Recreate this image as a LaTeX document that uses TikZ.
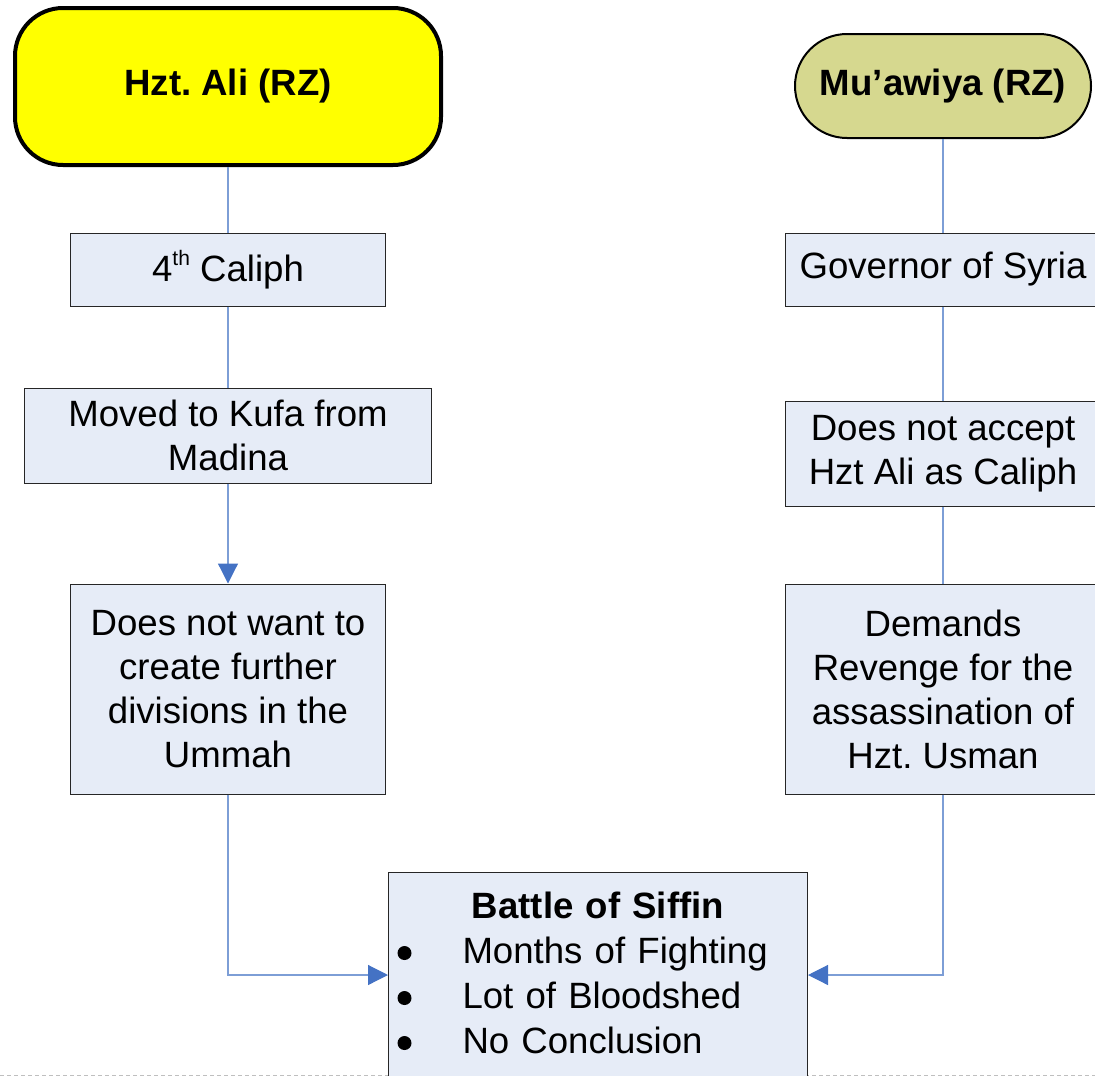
\documentclass[tikz,border=0pt]{standalone}
\usepackage{fontspec}
\setmainfont{Liberation Sans}
\frenchspacing
\usetikzlibrary{arrows.meta, calc, positioning}
\definecolor{boxFill}{RGB}{230,236,247}
\definecolor{lineBlue}{RGB}{125,158,214}
\definecolor{tipBlue}{RGB}{68,114,196}
\definecolor{aliYellow}{RGB}{255,255,0}
\definecolor{muOlive}{RGB}{214,216,143}
\tikzset{
    infoBox/.style={rectangle, draw=black!85, line width=1pt, fill=boxFill, align=center, inner sep=0pt, font=\fontsize{36.6}{44}\selectfont},
    headBox/.style={rectangle, draw=black, align=center, font=\fontsize{36.6}{44}\selectfont\bfseries},
    flowLine/.style={draw=lineBlue, line width=1.2pt},
    flowArrow/.style={flowLine, -{Triangle[length=20pt, width=20pt, color=tipBlue]}},
    pageLine/.style={black!25, line width=1pt, dash pattern=on 4pt off 3pt},
}
\newcommand{\siffinItem}[1]{\hspace*{9pt}\makebox[65pt][l]{\tikz[baseline=-10pt]\fill[black] (0pt,0pt) circle[radius=7pt];}#1}
\newcommand{\ordSup}[1]{\raisebox{16pt}{\fontsize{21}{21}\selectfont #1}}

\begin{document}
\begin{tikzpicture}[x=1pt, y=-1pt]
        \useasboundingbox (0,0) rectangle (1095,1076);
        \draw[pageLine] (0,1075) -- (1095,1075);

        % left column
        \node[headBox, fill=aliYellow, line width=4pt, rounded corners=48pt, minimum width=426pt, minimum height=157pt] (ali) at (228,86.5) {Hzt. Ali (RZ)};
        \node[infoBox, minimum width=315pt, minimum height=73pt] (caliph) at (228,269.5) {4\ordSup{th} Caliph};
        \node[infoBox, minimum width=407pt, minimum height=95pt] (kufa) at (228,435.5) {Moved to Kufa from\\Madina};
        \node[infoBox, minimum width=315pt, minimum height=210pt] (unity) at (228,689) {Does not want to\\create further\\divisions in the\\Ummah};

        % right column
        \node[headBox, fill=muOlive, line width=2pt, rounded corners=52pt, minimum width=296pt, minimum height=104pt] (muawiya) at (943,86) {Mu’awiya (RZ)};
        \node[infoBox, minimum width=315pt, minimum height=73pt] (syria) at (943,269.5) {Governor of Syria};
        \node[infoBox, minimum width=315pt, minimum height=105pt] (reject) at (943,453.5) {Does not accept\\Hzt Ali as Caliph};
        \node[infoBox, minimum width=315pt, minimum height=210pt] (revenge) at (943,689) {Demands\\Revenge for the\\assassination of\\Hzt. Usman};

        % battle
        \node[infoBox, anchor=north west, text width=419pt, align=left, inner xsep=0pt, inner ysep=19pt, font=\fontsize{36.6}{45}\selectfont] (siffin) at (388,872) {\makebox[419pt][c]{\bfseries Battle of Siffin}\\
            \siffinItem{Months of Fighting}\\
            \siffinItem{Lot of Bloodshed}\\
            \siffinItem{No Conclusion}\rule[-40pt]{0pt}{40pt}};

        \draw[flowLine] (ali) -- (caliph);
        \draw[flowLine] (caliph) -- (kufa);
        \draw[flowArrow] (kufa) -- (unity);
        \draw[flowArrow] (unity.south) |- ($(siffin.north west)+(0,103)$);

        \draw[flowLine] (muawiya) -- (syria);
        \draw[flowLine] (syria) -- (reject);
        \draw[flowLine] (reject) -- (revenge);
        \draw[flowArrow] (revenge.south) |- ($(siffin.north east)+(0,103)$);

    \end{tikzpicture}
\end{document}
